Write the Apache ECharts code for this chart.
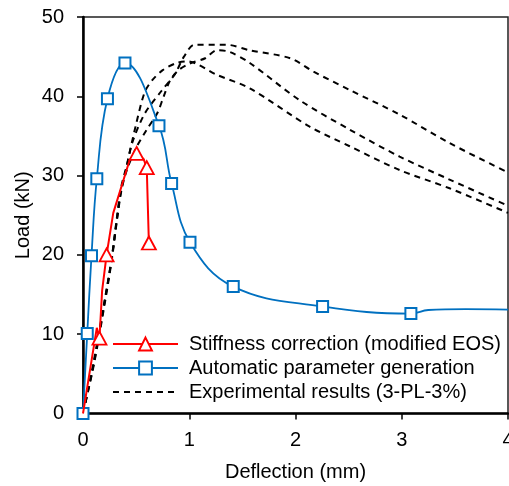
<!DOCTYPE html>
<html>
<head>
<meta charset="utf-8">
<script src="https://cdn.jsdelivr.net/npm/echarts@6/dist/echarts.min.js"></script>
<style>
html,body{margin:0;padding:0;background:#fff;}
#chart{width:509px;height:486px;}
</style>
</head>
<body>
<div id="chart"></div>
<script>
// ---- Data ----
var xTicks = [0, 1, 2, 3, 4];
var yTicks = [0, 10, 20, 30, 40, 50];

var seriesNames = [
  'Stiffness correction (modified EOS)',
  'Automatic parameter generation',
  'Experimental results (3-PL-3%)'
];

// Stiffness correction
var stiffX = [0, 0.13, 0.155, 0.18, 0.222, 0.285, 0.44, 0.505, 0.57, 0.60, 0.62];
var stiffY = [0, 10.8, 9.5, 15.5, 20.0, 25.3, 32.0, 32.8, 32.1, 31.0, 21.5];
var stiffMark = [0, 0, 1, 0, 1, 0, 0, 1, 0, 1, 1];

// Automatic parameter generation
var autoX = [0, 0.04, 0.08, 0.13, 0.23, 0.395, 0.715, 0.834, 1.007, 1.414, 2.255, 3.086, 3.25, 3.6, 4.0];
var autoY = [0, 10.1, 19.9, 29.6, 39.7, 44.2, 36.3, 29.0, 21.6, 16.0, 13.5, 12.6, 13.05, 13.15, 13.1];
var autoMark = [1, 1, 1, 1, 1, 1, 1, 1, 1, 1, 1, 1, 0, 0, 0];

// Experimental results: three specimens
var expAX = [0, 0.1, 0.2, 0.27, 0.32, 0.36, 0.41, 0.46, 0.58, 0.74, 0.865, 0.95, 1.05, 1.35, 1.57, 1.95, 2.17, 2.51, 2.98, 3.45, 4.0];
var expAY = [0, 6.5, 14.0, 19.5, 24.6, 28.3, 31.0, 34.0, 37.8, 40.7, 42.8, 45.0, 46.5, 46.5, 45.8, 44.8, 43.1, 40.8, 37.7, 34.1, 30.4];
var expBX = [0, 0.1, 0.2, 0.27, 0.32, 0.36, 0.41, 0.5, 0.6, 0.7, 0.76, 0.82, 0.9, 1.0, 1.15, 1.26, 1.38, 1.57, 2.04, 2.51, 2.98, 3.45, 4.0];
var expBY = [0, 6.0, 13.5, 19.3, 24.4, 28.0, 30.6, 33.5, 35.8, 37.9, 40.0, 42.0, 43.3, 44.1, 44.8, 45.8, 45.6, 44.2, 39.5, 35.8, 32.4, 29.5, 26.2];
var expCX = [0, 0.1, 0.2, 0.27, 0.32, 0.36, 0.41, 0.5, 0.58, 0.65, 0.75, 0.88, 0.98, 1.26, 1.57, 2.13, 2.51, 2.98, 3.45, 4.0];
var expCY = [0, 6.2, 13.8, 19.6, 24.8, 28.6, 31.2, 36.5, 40.5, 42.0, 43.3, 44.2, 44.4, 42.7, 41.0, 36.2, 33.7, 30.7, 28.4, 25.3];

function pts(xs, ys, marks) {
  return xs.map(function (x, i) {
    var item = { value: [x, ys[i]] };
    if (marks && !marks[i]) item.symbol = 'none';
    return item;
  });
}
function plain(xs, ys) {
  return xs.map(function (x, i) { return [x, ys[i]]; });
}

var FONT = 'Liberation Sans, Arial, sans-serif';
var FS = 20;
var chart = echarts.init(document.getElementById('chart'), null, { renderer: 'canvas' });

var expStyle = {
  type: 'line',
  name: seriesNames[2],
  showSymbol: false,
  symbol: 'none',
  smooth: 0.3,
  lineStyle: { color: '#000', width: 2, type: [6, 5] },
  itemStyle: { color: '#000' },
  z: 2
};

chart.setOption({
  animation: false,
  backgroundColor: '#fff',
  textStyle: { fontFamily: FONT },
  grid: {
    left: 83, right: 1, top: 17, bottom: 72.5,
    outerBoundsMode: 'none',
    show: true, borderColor: '#222', borderWidth: 1.5, containLabel: false
  },
  legend: {
    orient: 'vertical',
    left: 112,
    top: 334,
    padding: 0,
    itemWidth: 65,
    itemHeight: 16,
    itemGap: 4,
    data: [
      { name: seriesNames[0] },
      { name: seriesNames[1] },
      { name: seriesNames[2], itemStyle: { opacity: 0 } }
    ],
    textStyle: { fontFamily: FONT, fontSize: FS, color: '#000', padding: [0, 0, 0, 6] }
  },
  xAxis: {
    type: 'value',
    min: 0, max: 4, interval: 1,
    name: 'Deflection (mm)',
    nameLocation: 'middle',
    nameGap: 49,
    nameMoveOverlap: false,
    nameTextStyle: { fontFamily: FONT, fontSize: FS, color: '#000' },
    axisLine: { show: true, onZero: false, lineStyle: { color: '#000', width: 2.5 } },
    axisTick: { show: true, inside: false, length: 6, lineStyle: { color: '#000', width: 1.5 } },
    axisLabel: {
      fontFamily: FONT, fontSize: FS, color: '#000', margin: 17,
      formatter: function (v) { return xTicks.indexOf(v) >= 0 ? String(v) : ''; }
    },
    splitLine: { show: false }
  },
  yAxis: {
    type: 'value',
    min: 0, max: 50, interval: 10,
    name: 'Load (kN)',
    nameLocation: 'middle',
    nameGap: 50,
    nameMoveOverlap: false,
    nameTextStyle: { fontFamily: FONT, fontSize: FS, color: '#000' },
    axisLine: { show: true, onZero: false, lineStyle: { color: '#000', width: 2.5 } },
    axisTick: { show: true, inside: false, length: 6, lineStyle: { color: '#000', width: 1.5 } },
    axisLabel: {
      fontFamily: FONT, fontSize: FS, color: '#000', margin: 19,
      formatter: function (v) { return yTicks.indexOf(v) >= 0 ? String(v) : ''; }
    },
    splitLine: { show: false }
  },
  series: [
    Object.assign({}, expStyle, { data: plain(expAX, expAY) }),
    Object.assign({}, expStyle, { data: plain(expBX, expBY) }),
    Object.assign({}, expStyle, { data: plain(expCX, expCY) }),
    {
      type: 'line',
      name: seriesNames[1],
      data: pts(autoX, autoY, autoMark),
      smooth: 0.4,
      symbol: 'rect',
      symbolSize: 11,
      showAllSymbol: true,
      lineStyle: { color: '#0070C0', width: 1.8 },
      itemStyle: { color: '#fff', borderColor: '#0070C0', borderWidth: 2 },
      z: 4
    },
    {
      type: 'line',
      name: seriesNames[0],
      data: pts(stiffX, stiffY, stiffMark),
      smooth: false,
      symbol: 'triangle',
      symbolSize: [14, 13],
      showAllSymbol: true,
      lineStyle: { color: '#FF0000', width: 2 },
      itemStyle: { color: '#fff', borderColor: '#FF0000', borderWidth: 1.8 },
      z: 5
    }
  ]
});
</script>
</body>
</html>
